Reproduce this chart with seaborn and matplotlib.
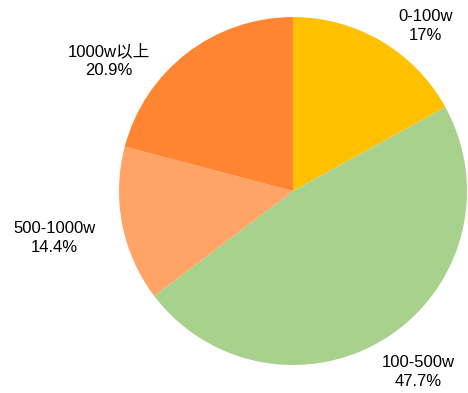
import numpy as np
import matplotlib.pyplot as plt
import seaborn as sns

sns.set_style("white")
plt.rcParams['font.family'] = ['Liberation Sans', 'Noto Sans CJK SC']

# data
labels = ['0-100w', '100-500w', '500-1000w', '1000w以上']
values = [17.0, 47.7, 14.4, 20.9]
pct_text = ['17%', '47.7%', '14.4%', '20.9%']
colors = ['#FFC000', '#A9D18E', '#FFA466', '#FF8533']

# label positions (layout, data units of the pie)
label_pos = [(0.76, 0.95), (0.72, -1.04), (-1.37, -0.27), (-1.06, 0.75)]

fig = plt.figure(figsize=(4.68, 3.93), dpi=100)
ax = fig.add_axes([0, 0, 1, 1])
ax.pie(values, colors=colors, startangle=90, counterclock=False,
       radius=1.0, wedgeprops={'linewidth': 0})
for lab, pct, (x, y) in zip(labels, pct_text, label_pos):
    ax.text(x, y, lab + '\n' + pct, ha='center', va='center',
            fontsize=12, linespacing=1.35, color='#000000')

ax.set_xlim(-1.684, 1.006)
ax.set_ylim(-1.161, 1.098)
ax.set_aspect('equal')
ax.axis('off')
fig.savefig('out.png', dpi=100)
